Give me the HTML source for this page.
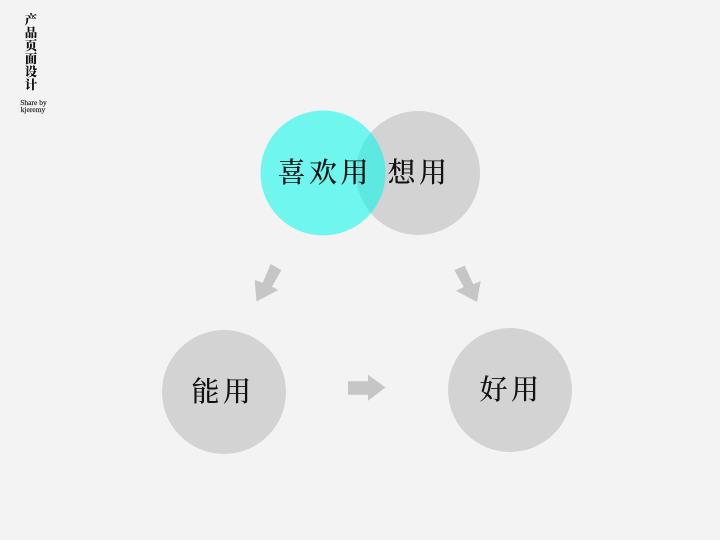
<!DOCTYPE html>
<html lang="zh">
<head>
<meta charset="utf-8">
<style>
html,body{margin:0;padding:0;background:#f3f3f3;}
svg{display:block;}
.t{font-family:"Liberation Serif","Noto Serif CJK SC","Noto Serif CJK JP",serif;font-size:28px;fill:#111;font-weight:500;letter-spacing:3.500px;}
.s{font-family:"Liberation Serif","Noto Serif CJK SC",serif;font-weight:900;fill:#111;}
.e{font-family:"Liberation Serif",serif;fill:#222;stroke:#222;stroke-width:0.150;}
</style>
</head>
<body>
<svg width="720" height="540" viewBox="0 0 720 540" xmlns="http://www.w3.org/2000/svg">
<defs>
<clipPath id="c"><circle cx="418" cy="173" r="62"/></clipPath>
</defs>
<rect width="720" height="540" fill="#f3f3f3"/>
<circle cx="418" cy="173" r="62" fill="#d3d3d3"/>
<circle cx="323" cy="173" r="62.500" fill="#6ef6ef"/>
<circle cx="323" cy="173" r="62.500" fill="#5ee8e2" clip-path="url(#c)"/>
<circle cx="224" cy="392" r="62" fill="#d3d3d3"/>
<circle cx="510" cy="390" r="62" fill="#d3d3d3"/>
<polygon points="270.700,264 281.300,270 272,286.700 278.300,290 256.500,301.500 254.700,280 262.700,282.700" fill="#c6c6c6"/>
<polygon points="454.300,270 464.700,265.700 473.300,284.300 480.700,281 477,302 456,290.700 463.700,287" fill="#c6c6c6"/>
<polygon points="348,381.300 368,381.300 368,374.700 385.500,387.500 368,400.700 368,394.700 348,394.700" fill="#c6c6c6"/>
<text class="t" x="277.500" y="182">喜欢用</text>
<text class="t" x="387.500" y="182">想用</text>
<text class="t" x="191.500" y="401">能用</text>
<text class="t" x="479.500" y="399">好用</text>
<g class="s" font-size="12.500" text-anchor="middle">
<text x="31" y="24">产</text>
<text x="31" y="37">品</text>
<text x="31" y="50">页</text>
<text x="31" y="63">面</text>
<text x="31" y="76">设</text>
<text x="31" y="89">计</text>
</g>
<g class="e" font-size="7.500" text-anchor="middle">
<text x="33.500" y="105">Share by</text>
<text x="33" y="112">kjeremy</text>
</g>
</svg>
</body>
</html>
